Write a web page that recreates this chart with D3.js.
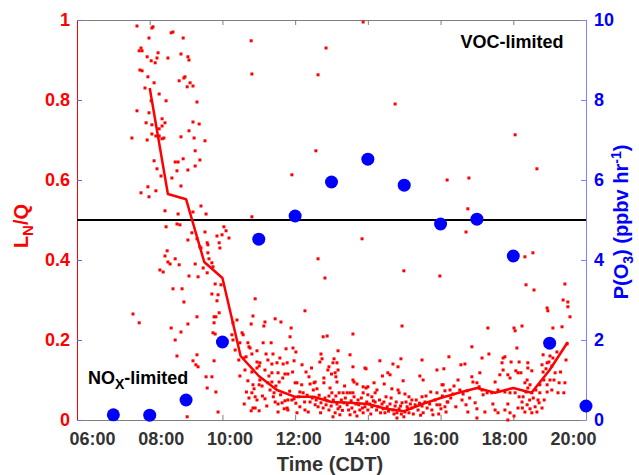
<!DOCTYPE html>
<html>
<head>
<meta charset="utf-8">
<script src="https://cdn.jsdelivr.net/npm/d3@7"></script>
<style>
    body { margin: 0; background: #fff; }
    text { font-family: "Liberation Sans", Arial, sans-serif; font-weight: bold; }
</style>
</head>
<body>
<div id="mainChart"></div>
<script>
// tick labels
const hourTicks = [6, 8, 10, 12, 14, 16, 18, 20];
const leftTicks = [0, 0.2, 0.4, 0.6, 0.8, 1];
const rightTicks = [0, 2, 4, 6, 8, 10];

// hourly P(O3), ppbv/hr
const po3Hours = [7, 8, 9, 10, 11, 12, 13, 14, 15, 16, 17, 18, 19, 20];
const po3Values = [0.13, 0.12, 0.5, 1.95, 4.52, 5.1, 5.95, 6.52, 5.87, 4.9, 5.02, 4.1, 1.92, 0.35];

// half-hourly mean LN/Q
const meanHours = [8, 8.5, 9, 9.5, 10, 10.5, 11, 11.5, 12, 12.5, 13, 13.5, 14, 14.5, 15, 15.5, 16, 16.5, 17, 17.5, 18, 18.5, 19, 19.5];
const meanValues = [0.83, 0.565, 0.552, 0.395, 0.355, 0.16, 0.11, 0.075, 0.058, 0.058, 0.045, 0.043, 0.04, 0.028, 0.022, 0.04, 0.055, 0.068, 0.08, 0.068, 0.08, 0.068, 0.125, 0.195];

// individual LN/Q samples [hour, value]
const lnqMorning = [
    [7.65,0.985],[8.06,0.98],[8.09,0.983],[7.98,0.955],[8.59,0.968],[8.64,0.97],[8.92,0.955],[10.79,0.948],
    [7.76,0.93],[7.71,0.923],[7.79,0.923],[7.93,0.908],[8.04,0.898],[8.20,0.905],[8.23,0.918],[8.15,0.893],
    [8.50,0.905],[8.86,0.915],[9.05,0.908],[9.08,0.90],[7.73,0.875],[7.79,0.873],[7.95,0.858],[8.12,0.843],
    [8.81,0.848],[8.94,0.855],[8.97,0.858],[9.03,0.833],[9.11,0.843],[9.19,0.835],[10.81,0.865],[7.87,0.83],
    [8.26,0.815],[8.45,0.798],[8.04,0.798],[9.30,0.795],[7.65,0.773],[7.98,0.768],[8.34,0.753],[8.42,0.743],
    [8.34,0.735],[7.90,0.743],[8.06,0.738],[8.26,0.728],[8.06,0.715],[8.17,0.71],[8.26,0.71],[7.51,0.705],
    [7.93,0.70],[8.34,0.703],[8.39,0.705],[8.86,0.708],[9.08,0.723],[9.19,0.745],[9.36,0.74],[9.22,0.705],
    [9.52,0.698],[9.25,0.673],[8.12,0.648],[8.20,0.628],[8.31,0.61],[8.61,0.605],[8.70,0.645],[8.78,0.645],
    [8.92,0.653],[8.75,0.623],[9.05,0.625],[9.25,0.635],[9.38,0.65],[7.95,0.583],[8.17,0.573],[7.76,0.568],
    [7.98,0.558],[8.86,0.585],[8.42,0.523],[8.78,0.515],[9.19,0.52],[9.41,0.535],[9.55,0.515],[10.81,0.508],
    [8.45,0.483],[8.75,0.49],[8.83,0.488],[9.05,0.45],[9.16,0.468],[9.30,0.453],[9.52,0.47],[9.58,0.443],
    [9.60,0.438],[9.85,0.46],[9.91,0.443],[9.99,0.463],[10.04,0.483],[10.10,0.473],[10.18,0.455],[9.93,0.43],
    [8.42,0.41],[8.48,0.423],[8.50,0.395],[8.56,0.39],[8.70,0.403],[8.81,0.388],[8.28,0.375],[8.37,0.37],
    [9.25,0.39],[9.38,0.433],[9.41,0.43],[9.60,0.418],[9.63,0.403],[9.47,0.38],[9.58,0.368],[9.71,0.393],
    [9.74,0.383],[9.08,0.36],[9.33,0.358],[8.64,0.328],[8.89,0.328],[8.94,0.295],[9.80,0.34],[9.96,0.338],
    [9.71,0.315],[9.88,0.313],[9.85,0.298],[10.90,0.303],[7.54,0.265],[7.71,0.243],[9.30,0.258],[9.77,0.258],
    [9.82,0.258],[9.91,0.268],[10.84,0.26],[8.59,0.23],[9.05,0.24],[9.77,0.243],[9.74,0.218],[9.80,0.215],
    [10.29,0.243],[10.40,0.25],[10.79,0.24],[8.86,0.22],[8.70,0.20],[10.26,0.213],[10.54,0.218],[10.57,0.213],
    [10.29,0.20],[10.48,0.193],[10.70,0.193],[10.73,0.183],[8.75,0.16],[9.30,0.163],[9.19,0.148],[9.27,0.138],
    [9.33,0.133],[9.77,0.148],[10.59,0.155],[10.65,0.158],[10.81,0.165],[10.95,0.145],[11.01,0.135],[10.48,0.11],
    [9.55,0.108],[9.71,0.108],[9.58,0.08],[9.82,0.07],[10.84,0.088],[10.87,0.078],[10.81,0.068],[10.90,0.058],
    [11.01,0.088],[10.73,0.055],[10.79,0.023],[10.84,0.03],[9.88,0.02],[9.03,0.008],[11.01,0.023],
    [10.62,0.125],[10.70,0.098],[10.66,0.07],[10.60,0.04],[10.45,0.15],[10.35,0.175]
];
const lnqMidday = [
    [12.85,0.93],[12.63,0.863],[13.87,0.995],[14.75,0.79],[12.57,0.673],[11.91,0.613],[13.84,0.453],[12.63,0.403],
    [12.82,0.355],[14.99,0.373],[15.98,0.36],[12.27,0.273],[11.17,0.245],[11.14,0.235],[11.45,0.253],[11.61,0.245],
    [11.89,0.23],[14.94,0.235],[12.77,0.208],[12.88,0.21],[13.59,0.215],[11.86,0.208],[11.12,0.193],[11.34,0.193],
    [10.76,0.18],[11.94,0.18],[12.02,0.17],[11.75,0.178],[10.95,0.173],[11.20,0.165],[11.39,0.165],[12.71,0.165],
    [13.51,0.163],[13.18,0.173],[11.58,0.155],[11.25,0.15],[11.36,0.14],[11.03,0.143],[11.50,0.143],[11.67,0.14],
    [11.78,0.143],[11.97,0.148],[12.19,0.138],[12.68,0.145],[12.74,0.153],[13.07,0.153],[13.04,0.143],[13.15,0.143],
    [12.93,0.133],[13.59,0.133],[13.92,0.13],[13.95,0.128],[14.33,0.148],[14.69,0.14],[14.83,0.133],[14.91,0.153],
    [15.49,0.15],[15.90,0.125],[16.23,0.158],[10.95,0.13],[10.81,0.12],[11.17,0.125],[11.36,0.118],[11.53,0.118],
    [11.72,0.115],[11.80,0.115],[12.90,0.125],[13.10,0.118],[13.18,0.125],[14.55,0.118],[14.61,0.113],[14.97,0.098],
    [15.43,0.11],[15.52,0.10],[16.07,0.088],[16.12,0.073],[11.03,0.10],[11.09,0.085],[11.25,0.093],[11.36,0.095],
    [11.31,0.075],[11.42,0.068],[11.56,0.095],[12.00,0.093],[12.05,0.093],[12.38,0.108],[12.41,0.09],[12.52,0.093],
    [12.55,0.095],[12.79,0.105],[13.12,0.108],[13.15,0.095],[13.59,0.10],[13.62,0.095],[13.87,0.083],[13.95,0.08],
    [14.00,0.083],[14.17,0.093],[12.79,0.093],[12.96,0.08],[13.01,0.068],[12.93,0.06],[12.60,0.078],[12.13,0.07],
    [12.22,0.068],[13.21,0.068],[13.32,0.068],[13.43,0.068],[13.51,0.068],[13.59,0.068],[13.87,0.068],[14.00,0.063],
    [14.11,0.058],[14.20,0.068],[14.66,0.078],[14.83,0.075],[14.86,0.068],[15.02,0.065],[15.13,0.058],[15.21,0.05],
    [15.49,0.058],[15.90,0.068],[10.95,0.05],[11.17,0.053],[10.90,0.03],[11.45,0.045],[11.53,0.04],[11.64,0.043],
    [11.72,0.048],[11.80,0.05],[11.91,0.05],[11.97,0.053],[11.53,0.02],[11.78,0.03],[11.80,0.025],[12.13,0.033],
    [12.41,0.045],[12.55,0.038],[12.63,0.033],[12.71,0.043],[12.77,0.03],[12.85,0.038],[12.93,0.025],[13.10,0.018],
    [13.15,0.04],[13.23,0.033],[13.34,0.043],[13.43,0.038],[13.56,0.03],[13.67,0.04],[13.73,0.05],[13.78,0.025],
    [13.87,0.018],[13.92,0.033],[14.00,0.025],[14.11,0.033],[14.20,0.045],[14.28,0.033],[14.39,0.04],[14.42,0.028],
    [14.47,0.018],[14.53,0.033],[14.61,0.04],[14.69,0.025],[14.75,0.035],[14.80,0.018],[14.86,0.028],[14.94,0.043],
    [14.99,0.008],[15.02,0.02],[15.08,0.033],[15.13,0.018],[15.21,0.03],[15.30,0.038],[15.38,0.025],[15.49,0.035],
    [15.52,0.018],[15.63,0.03],[15.76,0.025],[15.79,0.013],[15.90,0.038],[16.01,0.028],[16.12,0.033],[16.20,0.045],
    [12.05,0.018],[12.27,0.025],[13.04,0.008],[13.23,0.013],[13.51,0.013],[13.70,0.01],[14.80,0.005]
];
// extra samples filling the dense midday band
const lnqBand = [
    [11.10,0.06],[11.22,0.035],[11.28,0.11],[11.40,0.058],[11.47,0.085],[11.60,0.063],[11.66,0.105],[11.70,0.028],
    [11.85,0.072],[11.93,0.12],[12.02,0.042],[12.10,0.058],[12.18,0.088],[12.26,0.045],[12.33,0.062],[12.36,0.02],
    [12.47,0.055],[12.50,0.075],[12.58,0.05],[12.66,0.062],[12.70,0.018],[12.82,0.055],[12.88,0.048],[12.99,0.035],
    [13.05,0.05],[13.12,0.06],[13.18,0.028],[13.27,0.05],[13.30,0.024],[13.38,0.055],[13.47,0.025],[13.54,0.048],
    [13.62,0.058],[13.64,0.02],[13.75,0.038],[13.82,0.055],[13.85,0.03],[13.97,0.045],[14.05,0.04],[14.08,0.015],
    [14.15,0.048],[14.24,0.025],[14.32,0.05],[14.35,0.018],[14.44,0.045],[14.50,0.058],[14.57,0.022],[14.64,0.055],
    [14.72,0.015],[14.78,0.045],[14.90,0.035],[14.92,0.015],[15.05,0.045],[15.10,0.028],[15.17,0.04],[15.25,0.015],
    [15.33,0.05],[15.42,0.042],[15.45,0.012],[15.57,0.045],[15.60,0.06],[15.70,0.04],[15.73,0.07],[15.85,0.05],
    [15.95,0.015],[16.05,0.06],[16.15,0.02],[16.28,0.055],[16.37,0.085],[16.48,0.1],[16.62,0.065],[16.80,0.055],
    [13.36,0.085],[13.70,0.09],[14.25,0.075],[14.45,0.09],[12.30,0.12],[12.45,0.13],[13.00,0.115],[14.40,0.11]
];
const lnqAfternoon = [
    [16.18,0.60],[16.78,0.605],[16.75,0.528],[18.05,0.713],[18.65,0.628],[16.70,0.47],[18.32,0.408],[18.54,0.418],
    [18.35,0.338],[18.57,0.325],[19.42,0.34],[19.37,0.30],[19.50,0.295],[19.50,0.283],[18.93,0.28],[18.95,0.273],
    [19.56,0.258],[17.30,0.23],[18.02,0.23],[18.05,0.223],[18.24,0.235],[19.09,0.23],[19.34,0.233],[16.86,0.183],
    [18.10,0.18],[19.20,0.17],[18.82,0.163],[19.01,0.16],[19.09,0.155],[17.14,0.155],[17.33,0.165],[17.72,0.155],
    [17.77,0.158],[18.16,0.145],[18.40,0.143],[18.79,0.138],[18.93,0.143],[18.98,0.145],[19.06,0.135],[16.09,0.128],
    [16.56,0.138],[16.67,0.14],[16.86,0.108],[17.08,0.118],[17.69,0.143],[17.72,0.125],[17.94,0.145],[18.07,0.123],
    [18.21,0.118],[18.40,0.13],[18.51,0.123],[18.82,0.12],[18.90,0.128],[19.15,0.118],[16.89,0.095],[17.00,0.093],
    [17.50,0.095],[17.63,0.113],[17.85,0.113],[17.91,0.105],[18.13,0.118],[18.32,0.093],[18.38,0.10],[18.46,0.088],
    [18.73,0.088],[18.84,0.10],[18.93,0.088],[19.01,0.10],[19.26,0.093],[19.42,0.093],[16.04,0.088],[16.26,0.075],
    [16.34,0.065],[16.53,0.075],[16.73,0.073],[17.06,0.083],[17.14,0.075],[17.17,0.063],[17.28,0.068],[17.41,0.068],
    [17.58,0.075],[17.77,0.07],[17.91,0.068],[18.05,0.068],[18.16,0.058],[18.27,0.058],[18.35,0.07],[18.40,0.08],
    [18.51,0.068],[18.62,0.075],[18.73,0.068],[18.93,0.07],[19.06,0.075],[19.23,0.068],[19.39,0.068],[16.18,0.045],
    [16.42,0.033],[16.59,0.05],[16.70,0.038],[16.75,0.02],[16.95,0.043],[17.00,0.028],[17.22,0.02],[17.44,0.04],
    [17.50,0.025],[17.58,0.018],[17.77,0.025],[17.85,0.04],[17.91,0.018],[18.02,0.01],[18.13,0.03],[18.24,0.045],
    [18.25,0.03],[18.32,0.02],[18.38,0.038],[18.46,0.028],[18.51,0.018],[18.60,0.033],[18.65,0.02],[18.71,0.043],
    [18.79,0.03],[17.00,0.005],[17.85,0.0],[15.98,0.038],
    [18.45,0.05],[18.55,0.055],[18.68,0.05],[18.85,0.05],[19.12,0.1],[19.30,0.12],[19.45,0.15],[19.48,0.19]
];

const width = 639, height = 475;
const margin = { top: 20, right: 53, bottom: 55, left: 77 };
const red = '#ff0000', blue = '#0000ff', grey = '#333333';

const svg = d3.select('#mainChart').append('svg')
    .attr('width', width)
    .attr('height', height);

const x = d3.scaleLinear().domain([6, 20]).range([margin.left, width - margin.right]);
// the exported figure has its hour labels drawn slightly off the tick marks
const xLabel = d3.scaleLinear().domain([6, 20]).range([92, 573]);
const yL = d3.scaleLinear().domain([0, 1]).range([height - margin.bottom, margin.top]);
const yR = d3.scaleLinear().domain([0, 10]).range([height - margin.bottom, margin.top]);

const hhmm = d => String(d).padStart(2, '0') + ':00';

// top frame
svg.append('g')
    .attr('transform', `translate(0,${margin.top})`)
    .call(d3.axisTop(x).tickValues(hourTicks).tickSize(-5).tickSizeOuter(0).tickFormat(''))
    .call(g => g.selectAll('path, line').attr('stroke', '#7f7f7f'));

// bottom axis
svg.append('g')
    .attr('transform', `translate(0,${height - margin.bottom})`)
    .call(d3.axisBottom(x).tickValues(hourTicks).tickSize(-5).tickSizeOuter(0).tickFormat(hhmm))
    .call(g => g.selectAll('path, line').attr('stroke', '#7f7f7f'))
    .call(g => g.selectAll('text')
        .attr('x', d => xLabel(d) - x(d))
        .attr('y', 25)
        .attr('dy', 0)
        .attr('fill', grey)
        .attr('font-size', 18)
        .attr('font-family', '"Liberation Sans", Arial, sans-serif'));

// left axis
svg.append('g')
    .attr('transform', `translate(${margin.left},0)`)
    .call(d3.axisLeft(yL).tickValues(leftTicks).tickSize(-5).tickSizeOuter(0).tickPadding(7).tickFormat(d3.format('~g')))
    .call(g => g.select('.domain').attr('stroke', red))
    .call(g => g.selectAll('.tick line').attr('stroke', '#6666ff'))
    .call(g => g.selectAll('text')
        .attr('fill', red)
        .attr('font-size', 18)
        .attr('font-family', '"Liberation Sans", Arial, sans-serif'));

// right axis
svg.append('g')
    .attr('transform', `translate(${width - margin.right},0)`)
    .call(d3.axisRight(yR).tickValues(rightTicks).tickSize(-5).tickSizeOuter(0).tickPadding(8))
    .call(g => g.selectAll('path, line').attr('stroke', '#8080ff'))
    .call(g => g.selectAll('text')
        .attr('fill', blue)
        .attr('font-size', 18)
        .attr('font-family', '"Liberation Sans", Arial, sans-serif'));

// threshold line at LN/Q = 0.5
svg.append('line')
    .attr('x1', x(6)).attr('x2', x(20))
    .attr('y1', yL(0.5)).attr('y2', yL(0.5))
    .attr('stroke', '#000')
    .attr('stroke-width', 2);

// samples
const lnqPoints = lnqMorning.concat(lnqMidday, lnqBand, lnqAfternoon);
svg.append('g')
    .selectAll('rect')
    .data(lnqPoints)
    .join('rect')
    .attr('x', d => x(d[0]) - 1.5)
    .attr('y', d => yL(d[1]) - 1.5)
    .attr('width', 3)
    .attr('height', 3)
    .attr('fill', red);

// mean line
const line = d3.line()
    .x((d, i) => x(meanHours[i]))
    .y(d => yL(d));

svg.append('path')
    .datum(meanValues)
    .attr('fill', 'none')
    .attr('stroke', red)
    .attr('stroke-width', 2.5)
    .attr('stroke-linejoin', 'round')
    .attr('d', line);

// P(O3)
svg.append('g')
    .selectAll('circle')
    .data(po3Values)
    .join('circle')
    .attr('cx', (d, i) => x(po3Hours[i]))
    .attr('cy', d => yR(d))
    .attr('r', 6.5)
    .attr('fill', blue);

// labels
svg.append('text')
    .attr('x', 512).attr('y', 48)
    .attr('text-anchor', 'middle')
    .attr('font-size', 18)
    .text('VOC-limited');

const nox = svg.append('text')
    .attr('x', 88).attr('y', 384)
    .attr('font-size', 18);
nox.append('tspan').text('NO');
nox.append('tspan').attr('dy', 5).attr('font-size', 14).text('X');
nox.append('tspan').attr('dy', -5).text('-limited');

svg.append('text')
    .attr('x', 330).attr('y', 471)
    .attr('text-anchor', 'middle')
    .attr('font-size', 20)
    .attr('fill', grey)
    .text('Time (CDT)');

const leftTitle = svg.append('text')
    .attr('transform', 'translate(28,226) rotate(-90)')
    .attr('text-anchor', 'middle')
    .attr('font-size', 20)
    .attr('fill', red);
leftTitle.append('tspan').text('L');
leftTitle.append('tspan').attr('dy', 5).attr('font-size', 15).text('N');
leftTitle.append('tspan').attr('dy', -5).text('/Q');

const rightTitle = svg.append('text')
    .attr('transform', 'translate(628,222) rotate(-90)')
    .attr('text-anchor', 'middle')
    .attr('font-size', 20)
    .attr('fill', blue);
rightTitle.append('tspan').text('P(O');
rightTitle.append('tspan').attr('dy', 5).attr('font-size', 14).text('3');
rightTitle.append('tspan').attr('dy', -5).text(') (ppbv hr');
rightTitle.append('tspan').attr('dy', -7).attr('font-size', 14).text('-1');
rightTitle.append('tspan').attr('dy', 7).text(')');
</script>
</body>
</html>
